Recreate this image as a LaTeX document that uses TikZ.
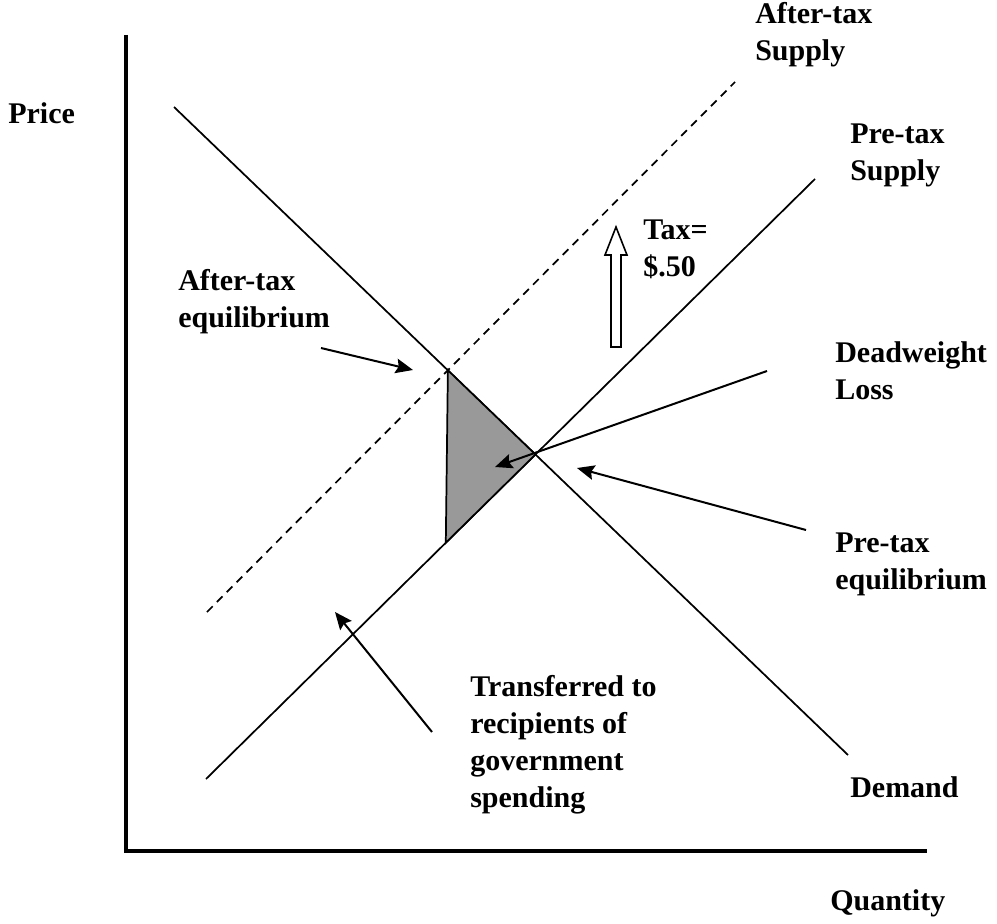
\documentclass[tikz,border=0pt]{standalone}
\usepackage{fontspec}
\setmainfont{Liberation Serif}
\usetikzlibrary{arrows.meta,positioning,calc}

\tikzset{
  curve/.style={line width=1.3pt},
  axisline/.style={line width=3pt},
  lbl/.style={anchor=west,align=left,inner sep=0pt,
    font=\fontsize{22.5}{27.7}\selectfont\bfseries},
  pointer/.style={line width=1.5pt,-{Stealth[length=13pt,width=11pt,inset=2pt]}},
}

\begin{document}
\begin{tikzpicture}[x=0.75pt,y=-0.75pt]
  \useasboundingbox (0,0) rectangle (997,924);
  % axes
  \coordinate (O) at (126,851);
  \coordinate (Ytop) at (126,35);
  \coordinate (Xend) at (927,851);
  \draw[axisline] (Ytop) -- (O) -- (Xend);
  % demand and supply lines
  \coordinate (D1) at (174,107);  \coordinate (D2) at (848,755);
  \coordinate (S1) at (206,779);  \coordinate (S2) at (815,179);
  \coordinate (T1) at (207,612);  \coordinate (T2) at (735,82);
  \draw[curve] (D1) -- (D2);
  \draw[curve] (S1) -- (S2);
  \draw[curve,dash pattern=on 6pt off 4.5pt] (T1) -- (T2);
  % deadweight loss triangle
  \coordinate (Epre) at (intersection of D1--D2 and S1--S2);
  \coordinate (Epost) at (intersection of D1--D2 and T1--T2);
  \coordinate (Edown) at ($(Epost)+(-3,250)$);
  \coordinate (Ebot) at (intersection of S1--S2 and Epost--Edown);
  \filldraw[fill=black!40,line width=1.3pt] (Epost) -- (Epre) -- (Ebot) -- cycle;
  % tax arrow
  \draw[line width=1.2pt,fill=white] (611,347) -- (611,255) -- (605,255) -- (616,227)
    -- (627,255) -- (621,255) -- (621,347) -- cycle;
  % labels
  \node[lbl] (price) at (8,113) {Price};
  \node[lbl] (qty) at (830,903) {Quantity};
  \node[lbl] (atsup) at (755,35) {After-tax\\Supply};
  \node[lbl] (ptsup) at (850,155) {Pre-tax\\Supply};
  \node[lbl] (tax) at (643,249) {Tax=\\\$.50};
  \node[lbl] (ateq) at (178,302) {After-tax\\equilibrium};
  \node[lbl] (dwl) at (835,371) {Deadweight\\Loss};
  \node[lbl] (pteq) at (835,564) {Pre-tax\\equilibrium};
  \node[lbl] (trans) at (470,745) {Transferred to\\recipients of\\government\\spending};
  \node[lbl] (dem) at (850,787) {Demand};
  % pointers
  \coordinate (ateqS) at (321,348);  \coordinate (ateqE) at (413,370);
  \coordinate (dwlS) at (767,371);   \coordinate (dwlE) at (495,467);
  \coordinate (pteqS) at (806,530);  \coordinate (pteqE) at (577,468);
  \coordinate (transS) at (432,732); \coordinate (transE) at (335,612);
  \draw[pointer] (ateqS) -- (ateqE);
  \draw[pointer] (dwlS) -- (dwlE);
  \draw[pointer] (pteqS) -- (pteqE);
  \draw[pointer] (transS) -- (transE);
\end{tikzpicture}
\end{document}
